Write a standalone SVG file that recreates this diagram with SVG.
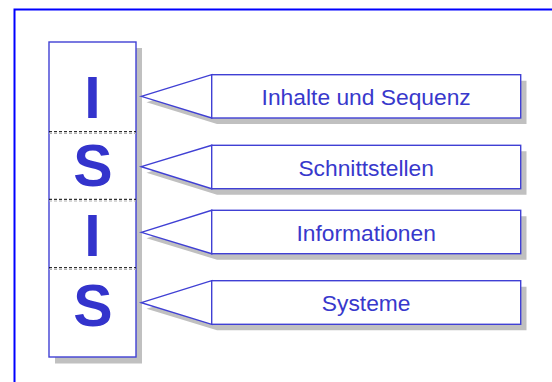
<svg xmlns="http://www.w3.org/2000/svg" width="552" height="382" viewBox="0 0 552 382">
<style>
.shadow{fill:#c0c0c0;stroke:none}
.box{fill:#ffffff;stroke:#4040d4;stroke-width:1.4}
.big{font-family:"Liberation Sans",Arial,sans-serif;font-weight:bold;font-size:59px;fill:#3333cc;text-anchor:middle}
.lbl{font-family:"Liberation Sans",Arial,sans-serif;font-size:22.8px;fill:#3838cc;text-anchor:middle}
.div1{stroke:#000000;stroke-width:1;stroke-dasharray:3,2;fill:none}
.div2{stroke:#b0b0b0;stroke-width:1;stroke-dasharray:3,2;fill:none}
</style>
<rect x="0" y="0" width="552" height="382" fill="#ffffff"/>
<rect id="frame" x="14.5" y="9.5" width="560" height="400" fill="none" stroke="#0000ff" stroke-width="2"/>
<g id="column">
<rect class="shadow" x="55" y="48" width="87" height="315.5"/>
<rect class="box" x="49" y="42" width="87" height="315"/>
<line class="div2" x1="49" y1="133.5" x2="136" y2="133.5"/>
<line class="div1" x1="49" y1="131.7" x2="136" y2="131.7"/>
<line class="div2" x1="49" y1="201" x2="136" y2="201"/>
<line class="div1" x1="49" y1="199.3" x2="136" y2="199.3"/>
<line class="div2" x1="49" y1="269.5" x2="136" y2="269.5"/>
<line class="div1" x1="49" y1="267.7" x2="136" y2="267.7"/>
<text class="big" x="92.5" y="118.3">I</text>
<text class="big" x="93" y="186">S</text>
<text class="big" x="92.5" y="256">I</text>
<text class="big" x="93" y="325.5">S</text>
</g>
<g id="connectors">
<polygon class="shadow" points="146.5,102.3 217,80.7 217,124 526.5,124 526.5,80.7 217,80.7"/>
<polygon class="shadow" points="146.5,172.7 217,151.3 217,194.7 526.5,194.7 526.5,151.3 217,151.3"/>
<polygon class="shadow" points="146.5,238.3 217,216.3 217,259.7 526.5,259.7 526.5,216.3 217,216.3"/>
<polygon class="shadow" points="146.5,308.7 217,286.7 217,330.3 526.5,330.3 526.5,286.7 217,286.7"/>
<polygon class="shadow" points="146.5,102.3 217,124 217,80.7"/>
<polygon class="shadow" points="146.5,172.7 217,194.7 217,151.3"/>
<polygon class="shadow" points="146.5,238.3 217,259.7 217,216.3"/>
<polygon class="shadow" points="146.5,308.7 217,330.3 217,286.7"/>
<polygon class="box" points="141.3,96.3 211.7,74.7 211.7,118"/>
<polygon class="box" points="141.3,166.7 211.7,145.3 211.7,188.7"/>
<polygon class="box" points="141.3,232.3 211.7,210.3 211.7,253.7"/>
<polygon class="box" points="141.3,302.7 211.7,280.7 211.7,324.3"/>
</g>
<g id="n1">
<rect class="box" x="211.7" y="74.7" width="309" height="43.3"/>
<text class="lbl" x="366.2" y="105">Inhalte und Sequenz</text>
</g>
<g id="n2">
<rect class="box" x="211.7" y="145.3" width="309" height="43.4"/>
<text class="lbl" x="366.2" y="175.5">Schnittstellen</text>
</g>
<g id="n3">
<rect class="box" x="211.7" y="210.3" width="309" height="43.4"/>
<text class="lbl" x="366.2" y="240.8">Informationen</text>
</g>
<g id="n4">
<rect class="box" x="211.7" y="280.7" width="309" height="43.6"/>
<text class="lbl" x="366.2" y="311">Systeme</text>
</g>
</svg>
